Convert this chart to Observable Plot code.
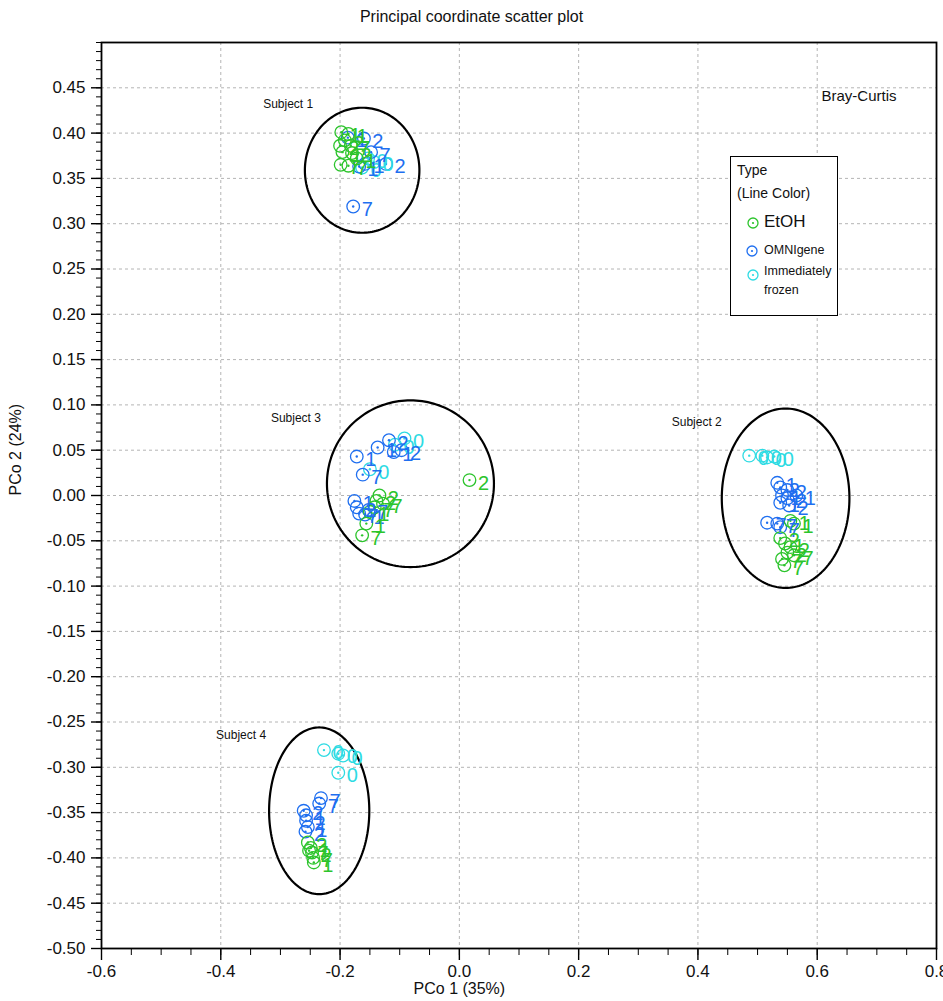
<!DOCTYPE html>
<html>
<head>
<meta charset="utf-8">
<script src="https://cdn.jsdelivr.net/npm/d3@7"></script>
<script src="https://cdn.jsdelivr.net/npm/@observablehq/plot@0.6"></script>
<style>
  body { margin: 0; background: #fff; font-family: "Liberation Sans", Arial, sans-serif; }
  #wrap { position: relative; width: 943px; height: 1001px; }
  #title { position: absolute; left: 0; top: 8px; width: 943px; text-align: center; font-size: 16px; color: #111;
           font-family: "Liberation Sans Narrow", "Liberation Sans", Arial, sans-serif; }
  #legend { position: absolute; left: 730px; top: 156px; width: 106px; height: 158px; border: 1.5px solid #000; background: #fff; color: #111; }
  #legend .row { position: absolute; left: 6px; white-space: nowrap; }
  #legend svg { position: absolute; }
</style>
</head>
<body>
<div id="wrap">
  <div id="chart"></div>
  <div id="title">Principal coordinate scatter plot</div>
  <div id="legend"></div>
</div>
<script>
// Sample types and their line colours
const types = ["EtOH", "OMNIgene", "Immediately frozen"];
const typeColors = ["#2cc42c", "#1f6ff0", "#2edbe3"];

// PCo 1, PCo 2 and day label of each sample, per type
const etoh = [
  // Subject 1
  [-0.198, 0.401, "1"], [-0.186, 0.399, "1"], [-0.192, 0.392, "2"], [-0.200, 0.386, "2"],
  [-0.182, 0.386, "7"], [-0.196, 0.379, "1"], [-0.180, 0.378, "2"], [-0.199, 0.365, "7"],
  [-0.186, 0.364, "7"], [-0.172, 0.372, "1"],
  // Subject 3
  [-0.134, 0.000, "2"], [-0.139, -0.006, "2"], [-0.128, -0.009, "7"], [-0.142, -0.013, "7"],
  [-0.150, -0.018, "1"], [-0.156, -0.031, "1"], [-0.163, -0.044, "7"], [0.017, 0.017, "2"],
  // Subject 2
  [0.555, -0.028, "1"], [0.561, -0.031, "1"], [0.538, -0.047, "2"], [0.546, -0.053, "1"],
  [0.555, -0.057, "2"], [0.550, -0.063, "2"], [0.561, -0.066, "7"], [0.541, -0.070, "7"],
  [0.545, -0.077, "7"],
  // Subject 4
  [-0.254, -0.383, "2"], [-0.249, -0.389, "1"], [-0.252, -0.392, "7"], [-0.247, -0.394, "2"],
  [-0.245, -0.400, "7"], [-0.244, -0.405, "1"]
];

const omni = [
  // Subject 1
  [-0.187, 0.395, "1"], [-0.160, 0.394, "2"], [-0.148, 0.379, "7"], [-0.123, 0.366, "2"],
  [-0.178, 0.319, "7"], [-0.168, 0.363, "1"], [-0.158, 0.366, "1"],
  // Subject 3
  [-0.172, 0.043, "1"], [-0.137, 0.053, "1"], [-0.118, 0.061, "2"], [-0.097, 0.050, "2"],
  [-0.110, 0.048, "1"], [-0.162, 0.023, "7"], [-0.176, -0.006, "1"], [-0.172, -0.013, "2"],
  [-0.168, -0.020, "7"], [-0.158, -0.021, "1"], [-0.152, -0.016, "7"],
  // Subject 2
  [0.533, 0.014, "1"], [0.538, 0.009, "2"], [0.550, 0.006, "2"], [0.541, 0.000, "1"],
  [0.550, -0.003, "2"], [0.538, -0.008, "1"], [0.553, -0.011, "2"], [0.565, 0.000, "1"],
  [0.516, -0.030, "7"], [0.533, -0.031, "7"], [0.538, -0.035, "7"],
  // Subject 4
  [-0.232, -0.334, "7"], [-0.235, -0.340, "7"], [-0.261, -0.348, "2"], [-0.257, -0.353, "1"],
  [-0.257, -0.359, "2"], [-0.254, -0.366, "1"], [-0.258, -0.371, "2"]
];

const frozen = [
  // Subject 1
  [-0.143, 0.368, "0"], [-0.163, 0.362, "0"], [-0.153, 0.372, "0"],
  // Subject 3
  [-0.092, 0.063, "0"], [-0.108, 0.056, "0"], [-0.150, 0.029, "0"],
  // Subject 2
  [0.486, 0.044, "0"], [0.508, 0.044, "0"], [0.516, 0.042, "0"], [0.528, 0.043, "0"],
  // Subject 4
  [-0.227, -0.281, "0"], [-0.203, -0.285, "0"], [-0.195, -0.287, "0"], [-0.203, -0.306, "0"]
];

// Subject groups: ellipse centre and radii, and where each name sits
const subjects = ["Subject 1", "Subject 2", "Subject 3", "Subject 4"];
const ellipseCx = [-0.163, 0.547, -0.082, -0.235];
const ellipseCy = [0.359, -0.003, 0.013, -0.348];
const ellipseRx = [0.096, 0.107, 0.140, 0.084];
const ellipseRy = [0.069, 0.099, 0.092, 0.092];
const subjectLabelX = [-0.287, 0.398, -0.274, -0.366];
const subjectLabelY = [0.432, 0.081, 0.085, -0.265];

// Axis ticks
const xTicks = [-0.6, -0.4, -0.2, 0.0, 0.2, 0.4, 0.6, 0.8];
const xTickLabels = ["-0.6", "-0.4", "-0.2", "0.0", "0.2", "0.4", "0.6", "0.8"];
const yTicks = [-0.50, -0.45, -0.40, -0.35, -0.30, -0.25, -0.20, -0.15, -0.10, -0.05,
                0.00, 0.05, 0.10, 0.15, 0.20, 0.25, 0.30, 0.35, 0.40, 0.45];
const yTickLabels = ["-0.50", "-0.45", "-0.40", "-0.35", "-0.30", "-0.25", "-0.20", "-0.15", "-0.10", "-0.05",
                     "0.00", "0.05", "0.10", "0.15", "0.20", "0.25", "0.30", "0.35", "0.40", "0.45"];

const xMinor = d3.range(-60, 81, 5).map(v => v / 100);
const yMinor = d3.range(-50, 51, 1).map(v => v / 100);

const toRows = (arr, type) => arr.map(([x, y, day]) => ({type, x, y, day}));
// drawing order: frozen underneath, then OMNIgene, EtOH on top
const samples = [
  ...toRows(frozen, types[2]),
  ...toRows(omni, types[1]),
  ...toRows(etoh, types[0])
];

const ellipses = subjects.flatMap((s, i) =>
  d3.range(0, 181).map(k => {
    const t = (k / 180) * 2 * Math.PI;
    return {subject: s, x: ellipseCx[i] + ellipseRx[i] * Math.cos(t), y: ellipseCy[i] + ellipseRy[i] * Math.sin(t)};
  })
);
const subjectLabels = subjects.map((s, i) => ({subject: s, x: subjectLabelX[i], y: subjectLabelY[i]}));

const narrow = "'Liberation Sans Narrow', 'Liberation Sans', Arial, sans-serif";
const gridStyle = {stroke: "#b4b4b4", strokeOpacity: 1, strokeDasharray: "3,3", strokeWidth: 1};

const chart = Plot.plot({
  width: 943,
  height: 1001,
  marginLeft: 101,
  marginRight: 7,
  marginTop: 42,
  marginBottom: 53,
  style: {fontFamily: narrow, fontSize: "17px", color: "#111", background: "#fff"},
  x: {domain: [-0.6, 0.8]},
  y: {domain: [-0.5, 0.5]},
  color: {domain: types, range: typeColors},
  marks: [
    Plot.gridX(xTicks.slice(1, -1), gridStyle),
    Plot.gridY(yTicks.slice(1), gridStyle),
    // minor ticks
    Plot.axisX(xMinor, {tickSize: 7, tickFormat: () => "", label: null, stroke: "#000"}),
    Plot.axisY(yMinor, {tickSize: 5, tickFormat: () => "", label: null, stroke: "#000"}),
    // major ticks with labels
    Plot.axisX(xTicks, {tickSize: 12, tickPadding: 4, tickFormat: d => xTickLabels[xTicks.indexOf(d)], label: null, fontSize: 17, stroke: "#000", strokeWidth: 1.4}),
    Plot.axisY(yTicks, {tickSize: 10, tickPadding: 6, tickFormat: d => yTickLabels[yTicks.indexOf(d)], label: null, fontSize: 17, stroke: "#000", strokeWidth: 1.4}),
    Plot.frame({stroke: "#000", strokeWidth: 1.8}),
    // subject ellipses and names
    Plot.line(ellipses, {x: "x", y: "y", z: "subject", stroke: "#000", strokeWidth: 2.2}),
    Plot.text(subjectLabels, {x: "x", y: "y", text: "subject", fontSize: 12, fill: "#111", fontFamily: "'Liberation Sans', Arial, sans-serif"}),
    // samples: open circle with a centre dot, day label to the right
    Plot.dot(samples, {x: "x", y: "y", r: 6.3, stroke: "type", fill: "none", strokeWidth: 1.3}),
    Plot.dot(samples, {x: "x", y: "y", r: 1.2, fill: "type", stroke: "none"}),
    Plot.text(samples, {x: "x", y: "y", text: "day", fill: "type", dx: 14, dy: 3, fontSize: 20}),
    // annotations
    Plot.text(["Bray-Curtis"], {frameAnchor: "top-right", dx: -40, dy: 48, fontSize: 15, fill: "#111", fontFamily: "'Liberation Sans', Arial, sans-serif"}),
    Plot.text(["PCo 2 (24%)"], {frameAnchor: "left", dx: -86, rotate: -90, fontSize: 16, fill: "#111"}),
    Plot.text(["PCo 1 (35%)"], {x: [0], frameAnchor: "bottom", dy: 45, fontSize: 16, fill: "#111"})
  ]
});
document.getElementById("chart").appendChild(chart);

// legend: type names with their symbol
const legend = d3.select("#legend");
legend.append("div").attr("class", "row").style("top", "5px").style("font-size", "14px").text("Type");
legend.append("div").attr("class", "row").style("top", "28px").style("font-size", "14px").text("(Line Color)");
const legendRows = [
  {i: 0, top: 55, size: 17, lines: ["EtOH"], symY: 66},
  {i: 1, top: 86, size: 12.5, lines: ["OMNIgene"], symY: 94},
  {i: 2, top: 105, size: 12.5, lines: ["Immediately", "frozen"], symY: 118}
];
for (const r of legendRows) {
  const c = typeColors[r.i];
  const svg = legend.append("svg").attr("width", 14).attr("height", 14)
    .style("left", (r.i === 1 ? 14 : 15) + "px").style("top", (r.symY - 7) + "px");
  svg.append("circle").attr("cx", 7).attr("cy", 7).attr("r", 5).attr("fill", "none").attr("stroke", c).attr("stroke-width", 1.3);
  svg.append("circle").attr("cx", 7).attr("cy", 7).attr("r", 1.1).attr("fill", c);
  legend.append("div").attr("class", "row")
    .style("left", "33px").style("top", r.top + "px")
    .style("font-size", r.size + "px").style("line-height", r.i === 2 ? "19px" : "normal")
    .html(r.lines.join("<br>"));
}
</script>
</body>
</html>
